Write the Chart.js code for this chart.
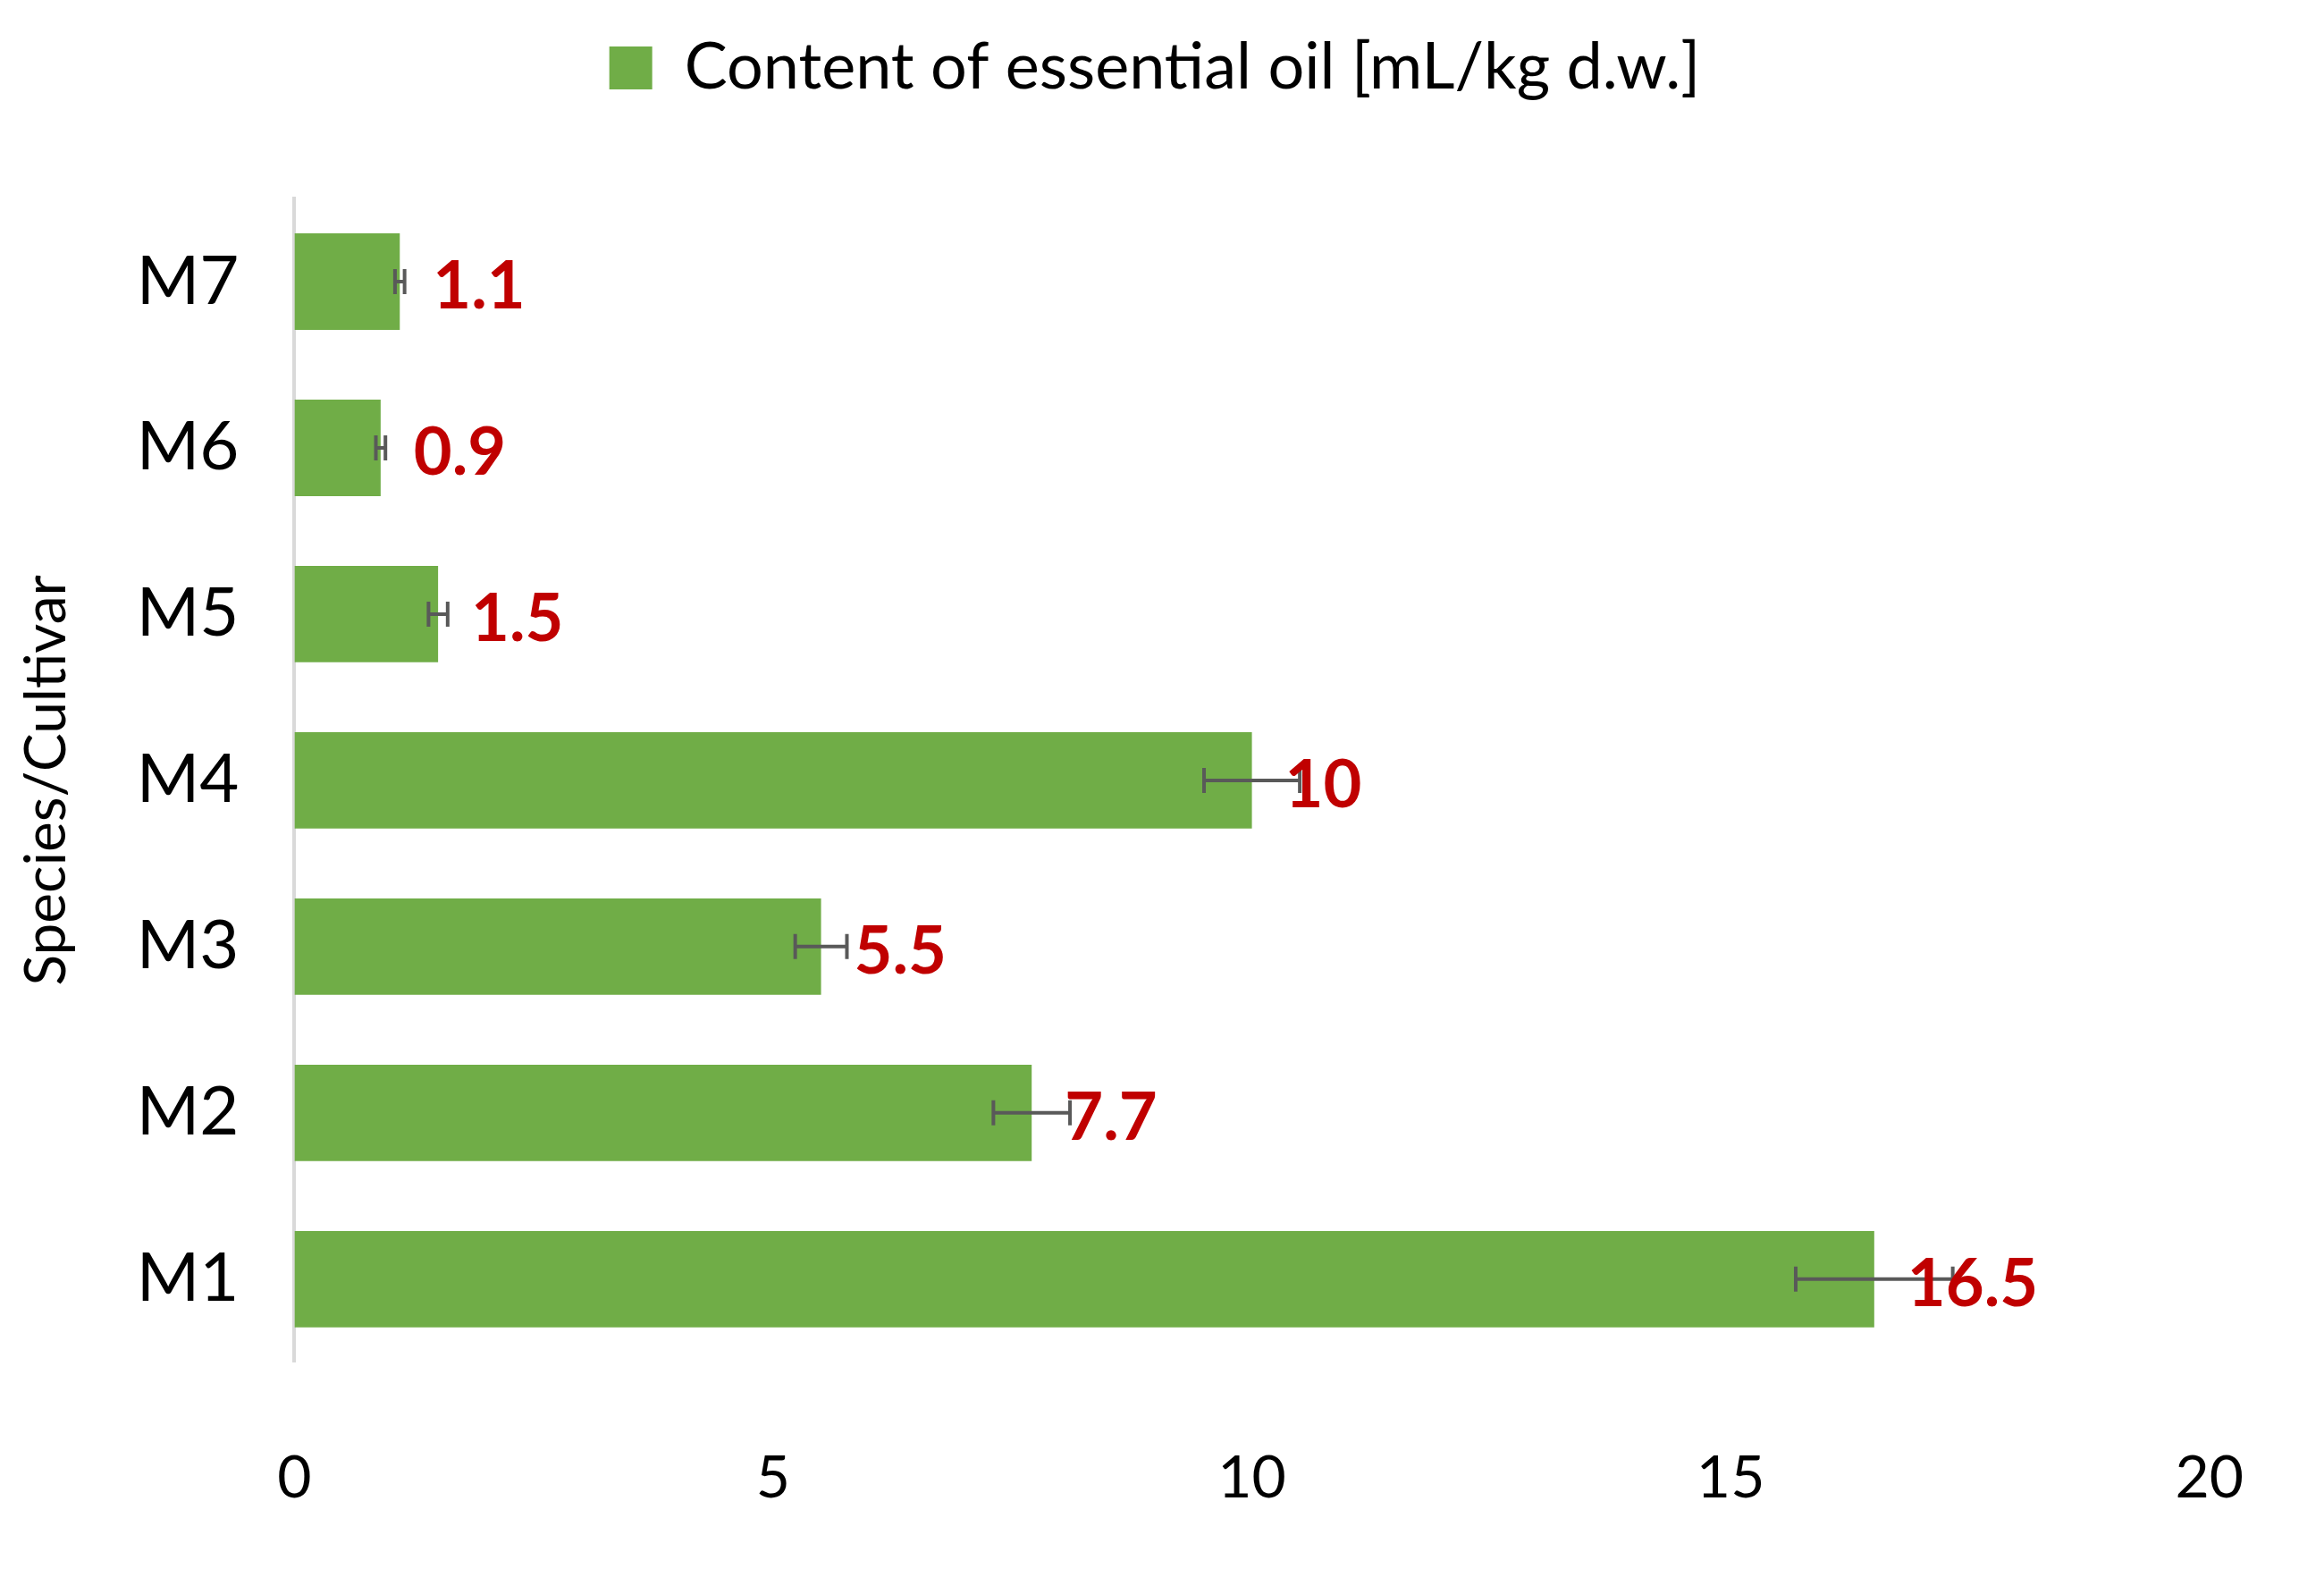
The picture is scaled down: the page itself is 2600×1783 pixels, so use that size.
<!DOCTYPE html>
<html>
<head>
<meta charset="utf-8">
<script src="https://cdn.jsdelivr.net/npm/chart.js@4"></script>
<style>
  html, body { margin: 0; padding: 0; background: #fff; }
</style>
</head>
<body>
<canvas id="chart" width="2600" height="1783"></canvas>
<script>
const categories = ["M7", "M6", "M5", "M4", "M3", "M2", "M1"];
const oilContent = [1.1, 0.9, 1.5, 10, 5.5, 7.7, 16.5];
const oilError = [0.05, 0.05, 0.1, 0.5, 0.27, 0.4, 0.82];
const xTicks = [0, 5, 10, 15, 20];

const fontFamily = "Lato, 'Open Sans', sans-serif";

// error bars and value labels drawn from the scales
const extrasPlugin = {
    id: "extras",
    afterDatasetsDraw(chart) {
        const ctx = chart.ctx;
        const x = chart.scales.x;
        const meta = chart.getDatasetMeta(0);
        ctx.save();
        meta.data.forEach((bar, i) => {
            const y = bar.y;
            const x1 = x.getPixelForValue(oilContent[i] - oilError[i]);
            const x2 = x.getPixelForValue(oilContent[i] + oilError[i]);
            ctx.strokeStyle = "#595959";
            ctx.lineWidth = 4;
            ctx.beginPath();
            ctx.moveTo(x1, y); ctx.lineTo(x2, y);
            ctx.moveTo(x1, y - 14); ctx.lineTo(x1, y + 14);
            ctx.moveTo(x2, y - 14); ctx.lineTo(x2, y + 14);
            ctx.stroke();

            ctx.fillStyle = "#C00000";
            ctx.font = "bold 74px " + fontFamily;
            ctx.textBaseline = "middle";
            ctx.textAlign = "left";
            ctx.fillText(String(oilContent[i]), bar.x + 37, y + 6);
        });
        ctx.restore();
    }
};

new Chart(document.getElementById("chart"), {
    type: "bar",
    data: {
        labels: categories,
        datasets: [{
            label: "Content of essential oil [mL/kg d.w.]",
            data: oilContent,
            backgroundColor: "#70AD47",
            categoryPercentage: 0.58,
            barPercentage: 1.0,
        }],
    },
    options: {
        indexAxis: "y",
        responsive: false,
        animation: false,
        devicePixelRatio: 1,
        layout: { padding: { left: 14, right: 30, top: 20, bottom: 0 } },
        scales: {
            x: {
                min: 0,
                max: 20,
                afterBuildTicks: (axis) => { axis.ticks = xTicks.map(v => ({ value: v })); },
                grid: { display: false, drawTicks: false },
                border: { display: false },
                ticks: { color: "#000", font: { size: 66, family: fontFamily }, padding: 90 },
            },
            y: {
                grid: { display: false, drawTicks: false },
                border: { display: true, color: "#D9D9D9", width: 4 },
                ticks: { color: "#000", font: { size: 76, family: fontFamily }, padding: 62 },
                title: {
                    display: true,
                    text: "Species/Cultivar",
                    color: "#000",
                    font: { size: 64, family: fontFamily },
                    padding: 0,
                },
            },
        },
        plugins: {
            legend: {
                position: "top",
                labels: {
                    color: "#000",
                    font: { size: 72, family: fontFamily },
                    boxWidth: 48,
                    boxHeight: 48,
                    padding: 20,
                },
            },
            tooltip: { enabled: false },
        },
    },
    plugins: [extrasPlugin, {
        id: "legendGap",
        beforeInit(chart) {
            const fit = chart.legend.fit;
            chart.legend.fit = function () { fit.bind(chart.legend)(); this.height += 100; };
        }
    }],
});
</script>
</body>
</html>
